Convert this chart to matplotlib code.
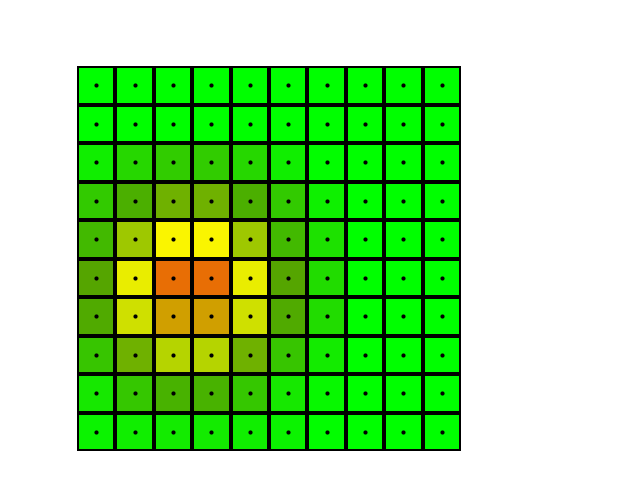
import numpy as np
import matplotlib
matplotlib.use("Agg")
import matplotlib.pyplot as plt
from matplotlib.colors import LinearSegmentedColormap

# cell values, rows from top to bottom
heat = [
    [0.00, 0.00, 0.00, 0.00, 0.00, 0.00, 0.00, 0.00, 0.00, 0.00],
    [0.00, 0.00, 0.00, 0.00, 0.00, 0.00, 0.00, 0.00, 0.00, 0.00],
    [0.07, 0.16, 0.20, 0.20, 0.16, 0.07, 0.01, 0.00, 0.00, 0.00],
    [0.21, 0.31, 0.42, 0.42, 0.31, 0.21, 0.06, 0.00, 0.00, 0.00],
    [0.27, 0.55, 0.80, 0.80, 0.55, 0.27, 0.12, 0.00, 0.00, 0.00],
    [0.35, 0.75, 1.00, 1.00, 0.75, 0.35, 0.14, 0.00, 0.00, 0.00],
    [0.33, 0.68, 0.90, 0.90, 0.68, 0.33, 0.14, 0.00, 0.00, 0.00],
    [0.23, 0.42, 0.61, 0.61, 0.42, 0.23, 0.08, 0.00, 0.00, 0.00],
    [0.09, 0.22, 0.30, 0.30, 0.22, 0.09, 0.03, 0.00, 0.00, 0.00],
    [0.05, 0.07, 0.08, 0.08, 0.07, 0.05, 0.01, 0.00, 0.00, 0.00],
]

# colour ramp: green -> dark green -> yellow -> ochre -> orange
ramp_pos = [0.0, 0.35, 0.80, 0.90, 1.0]
ramp_col = ["#00ff00", "#55a500", "#faf500", "#d0a000", "#e86e05"]

cmap = LinearSegmentedColormap.from_list("heat", list(zip(ramp_pos, ramp_col)))

data = np.array(heat)
n_rows, n_cols = data.shape

fig = plt.figure(figsize=(6.4, 4.8), dpi=100)
ax = fig.add_axes([77/640, 29/480, 384/640, 385/480])

ax.pcolormesh(np.arange(n_cols + 1), np.arange(n_rows + 1), data,
              cmap=cmap, vmin=0, vmax=1, edgecolors="k", linewidth=1.45)

# dot in the middle of each cell
cx, cy = np.meshgrid(np.arange(n_cols) + 0.5, np.arange(n_rows) + 0.5)
ax.plot(cx.ravel(), cy.ravel(), "o", color="k", markersize=3, markeredgewidth=0)

ax.set_xlim(0, n_cols)
ax.set_ylim(n_rows, 0)
ax.axis("off")

fig.savefig("out.png", dpi=100)
